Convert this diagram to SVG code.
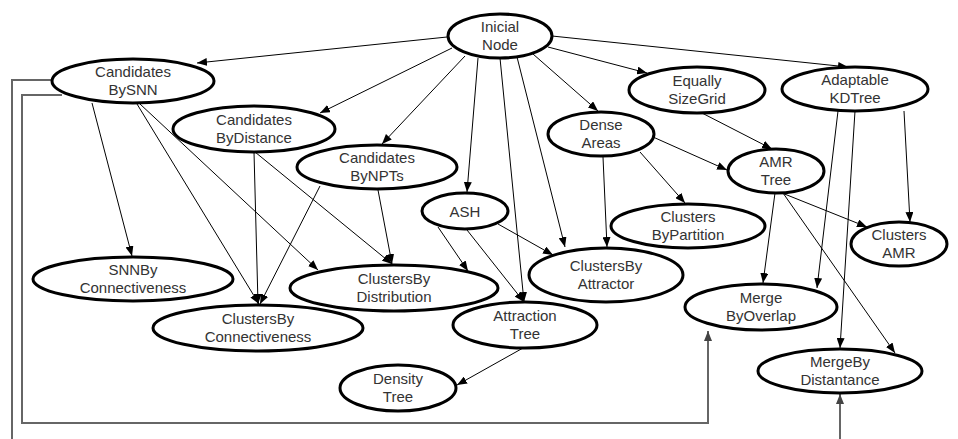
<svg xmlns="http://www.w3.org/2000/svg" width="958" height="439" viewBox="0 0 958 439">
<style>
.n ellipse{fill:#fff;stroke:#000;stroke-width:3}
.n text{font-family:"Liberation Sans",Arial,sans-serif;font-size:15px;fill:#333;text-anchor:middle}
.e{fill:none;stroke:#000;stroke-width:1;marker-end:url(#a)}
.g{fill:none;stroke:#666;stroke-width:2}
.ga{fill:none;stroke:#666;stroke-width:2;marker-end:url(#ag)}
</style>
<defs>
<marker id="a" markerUnits="userSpaceOnUse" markerWidth="11" markerHeight="8" refX="10" refY="4" orient="auto"><path d="M0,0 L10,4 L0,8 z" fill="#000"/></marker>
<marker id="ag" markerUnits="userSpaceOnUse" markerWidth="11" markerHeight="8" refX="10" refY="4" orient="auto"><path d="M0,0 L10,4 L0,8 z" fill="#444"/></marker>
</defs>
<rect width="958" height="439" fill="#fff"/>
<g id="connectors">
<line class="e" x1="447" y1="37" x2="197" y2="63"/>
<line class="e" x1="452" y1="48" x2="320" y2="113"/>
<line class="e" x1="465" y1="56" x2="382" y2="144"/>
<line class="e" x1="478" y1="58" x2="467" y2="192"/>
<line class="e" x1="500" y1="58" x2="524" y2="302"/>
<line class="e" x1="517" y1="57" x2="565" y2="247"/>
<line class="e" x1="533" y1="54" x2="598" y2="111"/>
<line class="e" x1="548" y1="47" x2="647" y2="73"/>
<line class="e" x1="552" y1="36" x2="848" y2="67"/>
<line class="e" x1="92" y1="103" x2="132" y2="256"/>
<line class="e" x1="137" y1="104" x2="259" y2="304"/>
<line class="e" x1="140" y1="104" x2="318" y2="270"/>
<line class="e" x1="254" y1="152" x2="258" y2="304"/>
<line class="e" x1="255" y1="152" x2="392" y2="264"/>
<line class="e" x1="320" y1="186" x2="260" y2="304"/>
<line class="e" x1="378" y1="190" x2="392" y2="264"/>
<line class="e" x1="438" y1="227" x2="468" y2="271"/>
<line class="e" x1="467" y1="230" x2="524" y2="302"/>
<line class="e" x1="498" y1="224" x2="553" y2="255"/>
<line class="e" x1="603" y1="157" x2="607" y2="247"/>
<line class="e" x1="640" y1="152" x2="685" y2="203"/>
<line class="e" x1="653" y1="137" x2="727" y2="170"/>
<line class="e" x1="700" y1="112" x2="772" y2="149"/>
<line class="e" x1="775" y1="193" x2="763" y2="283"/>
<line class="e" x1="782" y1="193" x2="867" y2="227"/>
<line class="e" x1="783" y1="193" x2="895" y2="353"/>
<line class="e" x1="838" y1="111" x2="817" y2="288"/>
<line class="e" x1="855" y1="111" x2="840" y2="348"/>
<line class="e" x1="904" y1="111" x2="910" y2="222"/>
<line class="e" x1="523" y1="348" x2="457" y2="385"/>
<polyline class="g" points="52,80 12,80 12,445"/>
<polyline class="ga" points="62,95 22,95 22,423 708,423 708,331"/>
<line class="ga" x1="840" y1="445" x2="840" y2="394"/>
</g>
<g id="inicial-node" class="n"><ellipse cx="500" cy="36" rx="52" ry="22"/><text x="500" y="32">Inicial</text><text x="500" y="50">Node</text></g>
<g id="candidates-bysnn" class="n"><ellipse cx="133" cy="81" rx="81" ry="22"/><text x="133" y="77">Candidates</text><text x="133" y="95">BySNN</text></g>
<g id="candidates-bydistance" class="n"><ellipse cx="254" cy="129" rx="81" ry="23"/><text x="254" y="125">Candidates</text><text x="254" y="143">ByDistance</text></g>
<g id="candidates-bynpts" class="n"><ellipse cx="377" cy="167" rx="80" ry="22"/><text x="377" y="163">Candidates</text><text x="377" y="181">ByNPTs</text></g>
<g id="ash" class="n"><ellipse cx="465" cy="211" rx="43" ry="18"/><text x="465" y="217">ASH</text></g>
<g id="dense-areas" class="n"><ellipse cx="601" cy="134" rx="53" ry="22"/><text x="601" y="130">Dense</text><text x="601" y="148">Areas</text></g>
<g id="equally-sizegrid" class="n"><ellipse cx="697" cy="90" rx="68" ry="23"/><text x="697" y="86">Equally</text><text x="697" y="104">SizeGrid</text></g>
<g id="adaptable-kdtree" class="n"><ellipse cx="855" cy="89" rx="73" ry="22"/><text x="855" y="85">Adaptable</text><text x="855" y="103">KDTree</text></g>
<g id="amr-tree" class="n"><ellipse cx="776" cy="171" rx="48" ry="22"/><text x="776" y="167">AMR</text><text x="776" y="185">Tree</text></g>
<g id="clusters-bypartition" class="n"><ellipse cx="688" cy="226" rx="77" ry="22"/><text x="688" y="222">Clusters</text><text x="688" y="240">ByPartition</text></g>
<g id="clusters-amr" class="n"><ellipse cx="899" cy="244" rx="48" ry="22"/><text x="899" y="240">Clusters</text><text x="899" y="258">AMR</text></g>
<g id="snnby-connectiveness" class="n"><ellipse cx="133" cy="279" rx="100" ry="22"/><text x="133" y="275">SNNBy</text><text x="133" y="293">Connectiveness</text></g>
<g id="clustersby-distribution" class="n"><ellipse cx="394" cy="288" rx="104" ry="23"/><text x="394" y="284">ClustersBy</text><text x="394" y="302">Distribution</text></g>
<g id="clustersby-attractor" class="n"><ellipse cx="606" cy="275" rx="77" ry="27"/><text x="606" y="271">ClustersBy</text><text x="606" y="289">Attractor</text></g>
<g id="clustersby-connectiveness" class="n"><ellipse cx="258" cy="328" rx="105" ry="23"/><text x="258" y="324">ClustersBy</text><text x="258" y="342">Connectiveness</text></g>
<g id="attraction-tree" class="n"><ellipse cx="525" cy="325" rx="72" ry="23"/><text x="525" y="321">Attraction</text><text x="525" y="339">Tree</text></g>
<g id="merge-byoverlap" class="n"><ellipse cx="761" cy="307" rx="76" ry="23"/><text x="761" y="303">Merge</text><text x="761" y="321">ByOverlap</text></g>
<g id="mergeby-distantance" class="n"><ellipse cx="840" cy="371" rx="82" ry="22"/><text x="840" y="367">MergeBy</text><text x="840" y="385">Distantance</text></g>
<g id="density-tree" class="n"><ellipse cx="398" cy="388" rx="58" ry="23"/><text x="398" y="384">Density</text><text x="398" y="402">Tree</text></g>
</svg>
